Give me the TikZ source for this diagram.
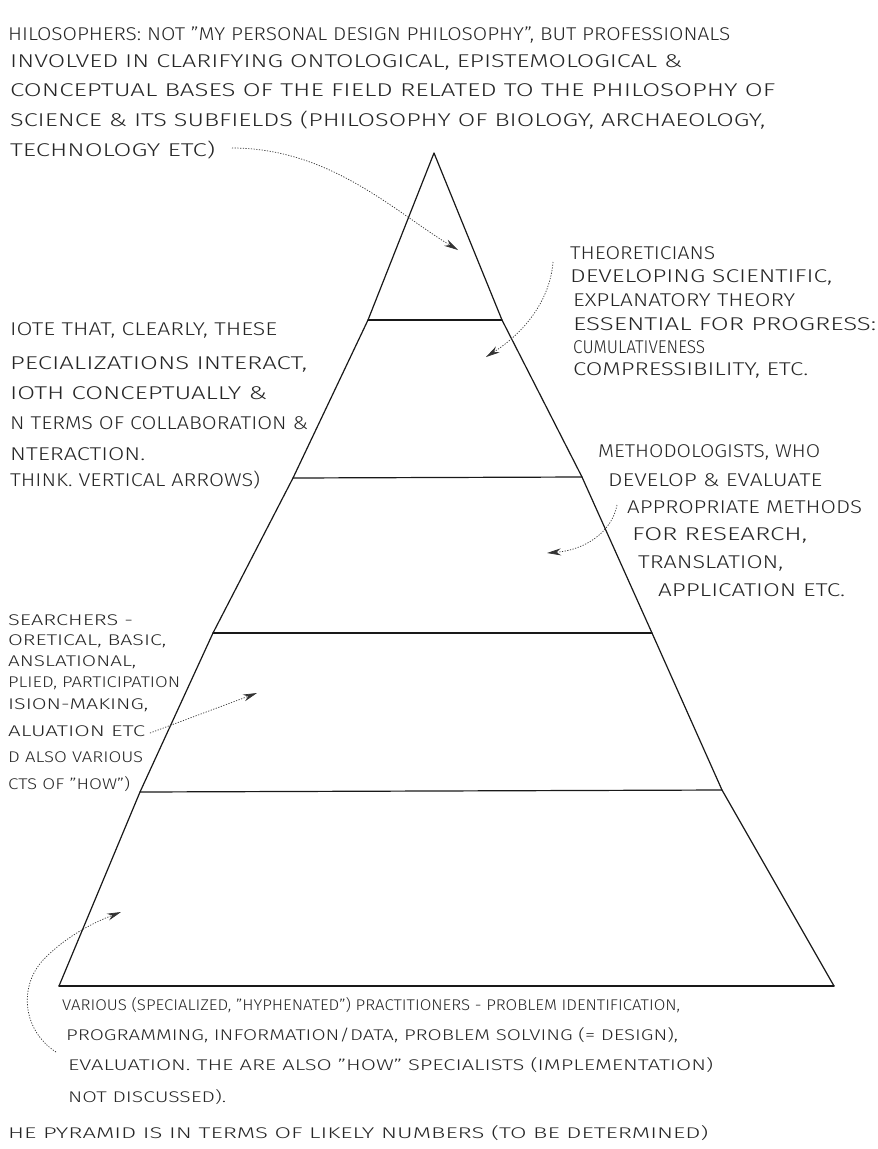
\documentclass[tikz,border=0pt]{standalone}
\usepackage{fontspec}
\setmainfont{Fira Sans}[UprightFont=* Light]
\usetikzlibrary{arrows.meta}
% one handwritten line, stretched to a given width in pt
\newcommand\hw[2]{\resizebox{#1pt}{\height}{#2}}
\begin{document}
\begin{tikzpicture}[x=1pt,y=-1pt,
  txt/.style={anchor=west, inner sep=0pt, text=black!85, font=\fontsize{18.5}{18.5}\selectfont},
  small/.style={txt, font=\fontsize{15.5}{15.5}\selectfont},
  edge/.style={line width=1.2pt, black!90, line join=round, line cap=round},
  shelf/.style={line width=1.2pt, black!90, line cap=round},
  dotarrow/.style={line width=0.7pt, black!80, dash pattern=on 1.2pt off 1.5pt,
    -{Stealth[length=14pt,width=7pt]}}]

\useasboundingbox (0,0) rectangle (878,1149);
\fill[white] (0,0) rectangle (878,1149);

% ---- pyramid outline ----
\coordinate (apex) at (434,153);
\coordinate (L1) at (368,320); \coordinate (R1) at (502,320);
\coordinate (L2) at (293,478); \coordinate (R2) at (582,477);
\coordinate (L3) at (213,633); \coordinate (R3) at (652,633);
\coordinate (L4) at (140,792); \coordinate (R4) at (722,790);
\coordinate (BL) at (59,986);  \coordinate (BR) at (834,986);

\draw[edge] (BL) -- (L4) -- (L3) -- (L2) -- (L1) -- (apex)
            -- (R1) -- (R2) -- (R3) -- (R4) -- (BR);
\draw[shelf] (BL) -- (BR);
\draw[shelf] (L1) -- (R1);
\draw[shelf] (L2) -- (R2);
\draw[shelf] (L3) -- (R3);
\draw[shelf] (L4) -- (R4);

% ---- philosophers ----
\node[txt] (t1) at (8,35)  {\hw{722}{HILOSOPHERS: NOT "MY PERSONAL DESIGN PHILOSOPHY", BUT PROFESSIONALS}};
\node[txt] (t2) at (10,62) {\hw{672}{INVOLVED IN CLARIFYING ONTOLOGICAL, EPISTEMOLOGICAL \&}};
\node[txt] (t3) at (10,90) {\hw{765}{CONCEPTUAL BASES OF THE FIELD RELATED TO THE PHILOSOPHY OF}};
\node[txt] (t4) at (10,120) {\hw{755}{SCIENCE \& ITS SUBFIELDS (PHILOSOPHY OF BIOLOGY, ARCHAEOLOGY,}};
\node[txt] (t5) at (10,150) {\hw{205}{TECHNOLOGY ETC)}};

% ---- theoreticians ----
\node[txt] (r1) at (570,253) {\hw{145}{THEORETICIANS}};
\node[txt] (r2) at (570,277) {\hw{262}{DEVELOPING SCIENTIFIC,}};
\node[txt] (r3) at (573,300) {\hw{222}{EXPLANATORY THEORY}};
\node[txt] (r4) at (573,324) {\hw{303}{ESSENTIAL FOR PROGRESS:}};
\node[txt] (r5) at (573,347) {\hw{132}{CUMULATIVENESS}};
\node[txt] (r6) at (573,370) {\hw{235}{COMPRESSIBILITY, ETC.}};

% ---- methodologists ----
\node[txt] (m1) at (598,452) {\hw{222}{METHODOLOGISTS, WHO}};
\node[txt] (m2) at (608,480) {\hw{214}{DEVELOP \& EVALUATE}};
\node[txt] (m3) at (627,507) {\hw{235}{APPROPRIATE METHODS}};
\node[txt] (m4) at (632,535) {\hw{175}{FOR RESEARCH,}};
\node[txt] (m5) at (638,563) {\hw{145}{TRANSLATION,}};
\node[txt] (m6) at (658,590) {\hw{187}{APPLICATION ETC.}};

% ---- note on interaction ----
\node[txt] (n1) at (10,330) {\hw{267}{IOTE THAT, CLEARLY, THESE}};
\node[txt] (n2) at (10,364) {\hw{297}{PECIALIZATIONS INTERACT,}};
\node[txt] (n3) at (10,393) {\hw{257}{IOTH CONCEPTUALLY \&}};
\node[txt] (n4) at (10,423) {\hw{298}{N TERMS OF COLLABORATION \&}};
\node[txt] (n5) at (10,454) {\hw{135}{NTERACTION.}};
\node[txt] (n6) at (10,480) {\hw{250}{THINK. VERTICAL ARROWS)}};

% ---- researchers ----
\node[small] (s1) at (8,620) {\hw{125}{SEARCHERS -}};
\node[small] (s2) at (8,641) {\hw{158}{ORETICAL, BASIC,}};
\node[small] (s3) at (8,662) {\hw{128}{ANSLATIONAL,}};
\node[small] (s4) at (8,683) {\hw{172}{PLIED, PARTICIPATION}};
\node[small] (s5) at (8,705) {\hw{140}{ISION-MAKING,}};
\node[small] (s6) at (8,731) {\hw{137}{ALUATION ETC}};
\node[small] (s7) at (8,757) {\hw{135}{D ALSO VARIOUS}};
\node[small] (s8) at (8,784) {\hw{122}{CTS OF "HOW")}};

% ---- practitioners ----
\node[small] (v1) at (62,1005) {\hw{618}{VARIOUS (SPECIALIZED, "HYPHENATED") PRACTITIONERS - PROBLEM IDENTIFICATION,}};
\node[small] (v2) at (66,1035) {\hw{612}{PROGRAMMING, INFORMATION/DATA, PROBLEM SOLVING (= DESIGN),}};
\node[small] (v3) at (68,1065) {\hw{645}{EVALUATION. THE ARE ALSO "HOW" SPECIALISTS (IMPLEMENTATION)}};
\node[small] (v4) at (68,1097) {\hw{158}{NOT DISCUSSED).}};
\node[small] (v5) at (8,1133)  {\hw{700}{HE PYRAMID IS IN TERMS OF LIKELY NUMBERS (TO BE DETERMINED)}};

% ---- pointers into the layers ----
\coordinate (p1s) at (232,148); \coordinate (p1e) at (458,250);
\coordinate (p2s) at (553,262); \coordinate (p2e) at (486,357);
\coordinate (p3s) at (617,505); \coordinate (p3e) at (547,553);
\coordinate (p4s) at (150,733); \coordinate (p4e) at (257,693);
\coordinate (p5s) at (56,1052); \coordinate (p5e) at (121,912);

\draw[dotarrow] (p1s) .. controls (330,148) and (395,212) .. (p1e);
\draw[dotarrow] (p2s) .. controls (550,300) and (525,332) .. (p2e);
\draw[dotarrow] (p3s) .. controls (612,532) and (585,550) .. (p3e);
\draw[dotarrow] (p4s) .. controls (190,718) and (225,705) .. (p4e);
\draw[dotarrow] (p5s) .. controls (22,1030) and (18,985) .. (45,958)
                     .. controls (68,935) and (95,922) .. (p5e);
\end{tikzpicture}
\end{document}
